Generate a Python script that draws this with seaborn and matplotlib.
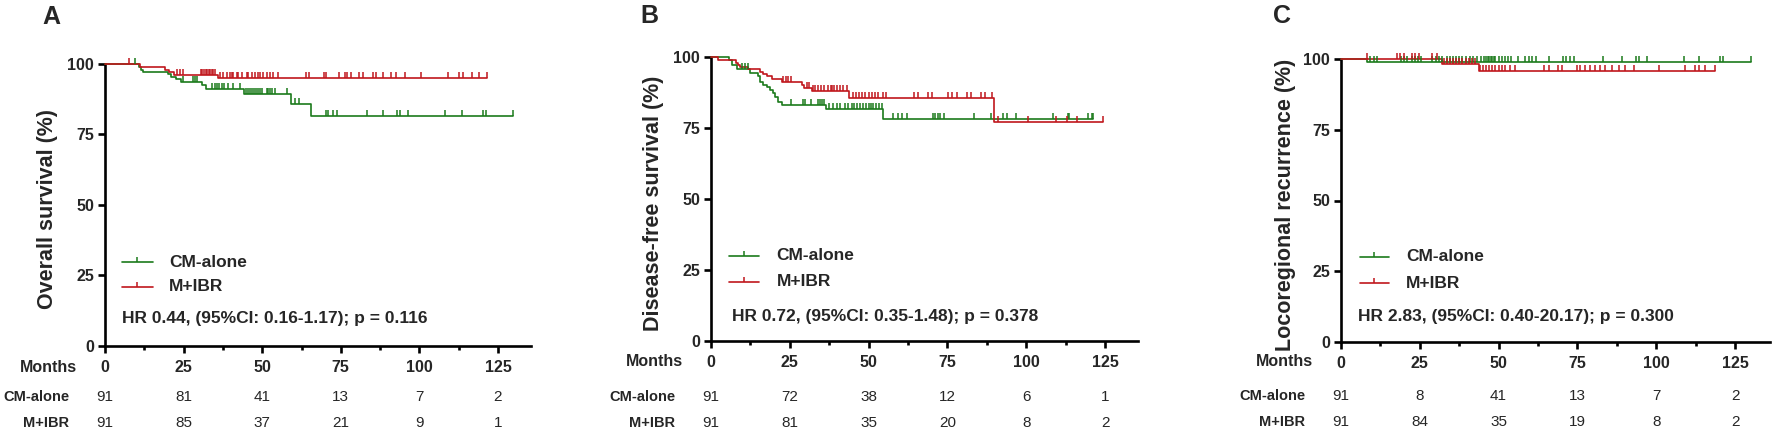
import numpy as np
import pandas as pd
import matplotlib
matplotlib.use("Agg")
import matplotlib.pyplot as plt
import seaborn as sns
from matplotlib.markers import TICKUP
from matplotlib.ticker import MultipleLocator

W, H = 1772, 429
GREEN = "#1B7A1B"
RED = "#C0161C"

groups = ["CM-alone", "M+IBR"]
risk_times = [0, 25, 50, 75, 100, 125]
ytick_vals = [0, 25, 50, 75, 100]
panel_letters = ["A", "B", "C"]
ylabels = ["Overall survival (%)", "Disease-free survival (%)", "Locoregional recurrence (%)"]
hr_texts = ["HR 0.44, (95%CI: 0.16-1.17); p = 0.116",
            "HR 0.72, (95%CI: 0.35-1.48); p = 0.378",
            "HR 2.83, (95%CI: 0.40-20.17); p = 0.300"]

# ---------------- Panel A : overall survival ----------------
A_cm_t = [0, 10.9, 11.3, 12.2, 20.1, 20.9, 22.6, 24.1, 30.8, 32.1, 44.2, 59.1, 65.5, 129.9]
A_cm_s = [100, 98.9, 97.7, 96.9, 96.2, 95.3, 94.5, 93.3, 92.4, 91.0, 89.3, 85.5, 81.3, 81.3]
A_cm_c = [9.7, 24.9, 27.9, 28.5, 29.2, 33.9, 35.0, 35.7, 36.4, 37.2, 37.9, 39.2, 40.8, 42.9,
          45.0, 45.6, 46.2, 46.8, 47.4, 48.0, 48.6, 49.3, 49.8, 51.4, 52.0, 52.6, 53.2, 54.0,
          57.8, 60.4, 61.8, 70.3, 71.0, 72.6, 73.9, 83.2, 88.5, 92.8, 93.8, 96.5, 108.2,
          113.5, 120.1, 121.2, 129.9]
A_ibr_t = [0, 11.1, 19.1, 20.5, 22.0, 36.1, 121.4]
A_ibr_s = [100, 98.9, 97.8, 96.9, 95.8, 94.7, 94.7]
A_ibr_c = [7.7, 22.8, 23.7, 24.8, 30.5, 31.0, 31.5, 32.0, 32.5, 33.0, 33.5, 34.0, 34.5, 35.0,
           36.6, 37.6, 38.7, 39.8, 40.3, 40.8, 41.9, 42.4, 43.5, 45.1, 45.6, 46.7, 47.7, 48.8,
           49.3, 50.3, 51.4, 52.4, 53.5, 54.9, 63.9, 65.0, 69.5, 70.3, 74.5, 76.3, 76.9, 78.2,
           80.9, 82.2, 85.4, 86.2, 88.5, 90.9, 92.6, 95.4, 100.4, 109.2, 112.7, 114.0, 116.6,
           118.8, 121.4]
A_cm_risk = [91, 81, 41, 13, 7, 2]
A_ibr_risk = [91, 85, 37, 21, 9, 1]

# ---------------- Panel B : disease-free survival ----------------
B_cm_t = [0, 5.7, 6.6, 8.4, 12.4, 15.0, 15.5, 16.6, 17.7, 18.7, 19.8, 20.3, 21.1, 22.6, 36.4, 54.5, 121.3]
B_cm_s = [100, 98.9, 97.3, 95.8, 94.3, 93.3, 91.4, 90.2, 89.4, 88.5, 87.5, 86.1, 84.4, 83.2, 81.7, 78.3, 78.3]
B_cm_c = [9.7, 10.8, 11.6, 25.4, 29.3, 29.8, 31.7, 33.8, 34.6, 35.3, 35.9, 37.4, 38.8, 39.9,
          40.9, 42.5, 43.6, 44.6, 45.5, 46.4, 47.3, 48.2, 49.1, 50.0, 50.9, 51.5, 52.3, 53.2,
          54.1, 57.8, 59.2, 60.5, 62.1, 70.5, 71.0, 72.1, 72.7, 74.0, 83.5, 88.8, 92.7, 93.8,
          96.7, 108.6, 113.4, 113.7, 119.7, 120.8, 121.3]
B_ibr_t = [0, 2.1, 7.9, 8.7, 9.2, 11.8, 15.5, 16.6, 17.7, 19.2, 22.4, 28.8, 29.6, 31.9, 43.8, 89.9, 124.5]
B_ibr_s = [100, 99.0, 98.1, 97.3, 96.7, 95.8, 94.9, 94.1, 93.4, 92.2, 91.4, 90.2, 89.1, 88.2, 85.5, 77.3, 77.3]
B_ibr_c = [22.9, 23.7, 24.5, 25.4, 30.4, 31.0, 32.5, 33.0, 34.0, 35.0, 36.0, 37.0, 38.0, 38.5,
           39.0, 40.0, 41.0, 42.0, 43.0, 45.2, 46.0, 47.0, 48.0, 49.0, 50.0, 51.0, 52.0, 53.0,
           54.5, 55.5, 64.5, 65.8, 68.7, 70.0, 75.1, 76.4, 77.9, 81.1, 82.5, 85.7, 86.9, 89.3,
           90.9, 100.7, 109.3, 112.8, 116.0, 124.5]
B_cm_risk = [91, 72, 38, 12, 6, 1]
B_ibr_risk = [91, 81, 35, 20, 8, 2]

# ---------------- Panel C : locoregional recurrence ----------------
C_cm_t = [0, 8.2, 130.2]
C_cm_s = [100, 98.9, 98.9]
C_cm_c = [9.3, 10.4, 11.4, 19.0, 20.0, 21.0, 22.5, 23.4, 24.4, 25.5, 29.0, 30.0, 31.0, 32.0,
          33.5, 34.5, 35.5, 36.5, 37.5, 38.5, 39.5, 41.0, 42.0, 43.0, 44.5, 45.5, 46.0, 46.5,
          47.0, 47.5, 48.0, 48.5, 49.0, 50.0, 51.0, 52.0, 53.0, 54.0, 56.0, 58.5, 59.5, 60.5,
          62.0, 66.0, 70.5, 71.5, 72.5, 74.0, 83.0, 89.0, 93.5, 94.5, 97.0, 108.7, 113.7,
          120.3, 121.3, 130.2]
C_ibr_t = [0, 32.0, 43.7, 118.8]
C_ibr_s = [100, 98.3, 95.9, 95.9]
C_ibr_c = [8.2, 17.8, 18.8, 19.9, 22.5, 23.6, 24.6, 28.9, 30.5, 32.6, 33.5, 34.5, 35.5, 36.5,
           37.5, 38.5, 39.5, 40.5, 41.5, 42.5, 44.2, 45.0, 46.0, 47.0, 48.0, 49.0, 50.0, 51.0,
           52.0, 53.5, 55.3, 64.3, 65.9, 69.0, 70.1, 74.9, 75.9, 77.5, 79.1, 80.7, 82.3, 83.9,
           86.0, 88.1, 90.2, 92.9, 100.8, 109.2, 112.4, 113.5, 115.6, 118.8]
C_cm_risk = [91, 8, 41, 13, 7, 2]
C_ibr_risk = [91, 84, 35, 19, 8, 2]

sns.set_theme(style="ticks")
plt.rcParams["font.family"] = ["Liberation Sans", "DejaVu Sans"]

fig = plt.figure(figsize=(W / 100, H / 100), dpi=100)


def fx(px):
    return px / W


def fy(py):
    return 1 - py / H


# layout in pixels: (x of month 0, x of axis end, y of 100%, y of 0%)
layout = [(105, 531, 63.5, 346), (711, 1138, 57.3, 341), (1341, 1770, 59, 342)]
px_per_month = [3.144, 3.152, 3.152]
months_row = [367, 362, 362]
cm_row = [397, 397, 395.5]
ibr_row = [423, 423, 422]
letter_pos = [(51, 17), (649, 16), (1282, 16)]
ylabel_x = [48, 653, 1286]
leg_pos = [(5.4, 20.4, 29.7, 20.9, 5.4, 9.9),
           (5.7, 20.8, 30.0, 20.8, 6.7, 8.6),
           (6.0, 20.6, 30.1, 20.7, 5.5, 8.9)]

panels = [
    ((A_cm_t, A_cm_s, A_cm_c), (A_ibr_t, A_ibr_s, A_ibr_c), A_cm_risk, A_ibr_risk),
    ((B_cm_t, B_cm_s, B_cm_c), (B_ibr_t, B_ibr_s, B_ibr_c), B_cm_risk, B_ibr_risk),
    ((C_cm_t, C_cm_s, C_cm_c), (C_ibr_t, C_ibr_s, C_ibr_c), C_cm_risk, C_ibr_risk),
]


def step_level(t, s, c):
    t = np.asarray(t)
    s = np.asarray(s)
    idx = np.searchsorted(t, np.asarray(c), side="right") - 1
    return s[idx]


for i, (cm, ibr, cm_risk, ibr_risk) in enumerate(panels):
    x0, x1, y100, y0 = layout[i]
    ax = fig.add_axes([fx(x0), fy(y0), fx(x1 - x0), (y0 - y100) / H])
    xmax = (x1 - x0) / px_per_month[i]

    for (t, s, c), col in ((cm, GREEN), (ibr, RED)):
        df = pd.DataFrame({"t": t, "s": s})
        sns.lineplot(data=df, x="t", y="s", ax=ax, color=col, lw=1.2,
                     drawstyle="steps-post", estimator=None, sort=False,
                     clip_on=False, zorder=3)
        cdf = pd.DataFrame({"t": c, "s": step_level(t, s, c)})
        sns.scatterplot(data=cdf, x="t", y="s", ax=ax, color=col, marker=TICKUP,
                        s=16, linewidth=1.1, clip_on=False, zorder=4)

    ax.set_xlim(0, xmax)
    ax.set_ylim(0, 100)
    ax.set_xticks(risk_times)
    ax.set_yticks(ytick_vals)
    ax.xaxis.set_minor_locator(MultipleLocator(12.5))
    ax.set_xlabel("")
    ax.set_ylabel("")
    for sp in ("top", "right"):
        ax.spines[sp].set_visible(False)
    for sp in ("left", "bottom"):
        ax.spines[sp].set_linewidth(1.9)
        ax.spines[sp].set_color("black")
    ax.tick_params(axis="both", which="major", direction="out", length=5, width=1.9,
                   color="black", labelsize=11.5, pad=3)
    ax.tick_params(axis="x", which="major", pad=5)
    ax.tick_params(axis="x", which="minor", direction="out", length=3, width=1.9, color="black")
    for lab in ax.get_xticklabels() + ax.get_yticklabels():
        lab.set_fontweight("bold")

    # legend
    lx0, ltx, ly1, ly2, hx, hy = leg_pos[i]
    for ly, col, name in ((ly1, GREEN, groups[0]), (ly2, RED, groups[1])):
        ax.plot([lx0, 15.2], [ly, ly], color=col, lw=1.2)
        ax.plot([(lx0 + 15.2) / 2], [ly], color=col, marker=TICKUP, ms=3.5, mew=1.1)
        ax.text(ltx, ly, name, fontsize=12.5, fontweight="bold", va="center", ha="left")
    ax.text(hx, hy, hr_texts[i], fontsize=12.5, fontweight="bold", va="center", ha="left")

    # number at risk table
    fig.text(fx(x0 - 28), fy(months_row[i]), "Months", fontsize=11.5, fontweight="bold",
             ha="right", va="center")
    fig.text(fx(x0 - 36), fy(cm_row[i]), groups[0], fontsize=10.5, fontweight="bold",
             ha="right", va="center")
    fig.text(fx(x0 - 36), fy(ibr_row[i]), groups[1], fontsize=10.5, fontweight="bold",
             ha="right", va="center")
    for tm, a, b in zip(risk_times, cm_risk, ibr_risk):
        xp = x0 + tm * px_per_month[i]
        fig.text(fx(xp), fy(cm_row[i]), str(a), fontsize=11, ha="center", va="center")
        fig.text(fx(xp), fy(ibr_row[i]), str(b), fontsize=11, ha="center", va="center")

    fig.text(fx(ylabel_x[i]), fy((y100 + y0) / 2 + 4), ylabels[i], rotation=90, fontsize=15.5,
             fontweight="bold", ha="center", va="center")
    lx, lyy = letter_pos[i]
    fig.text(fx(lx), fy(lyy), panel_letters[i], fontsize=18, fontweight="bold",
             ha="center", va="center")

fig.savefig("out.png", dpi=100)
